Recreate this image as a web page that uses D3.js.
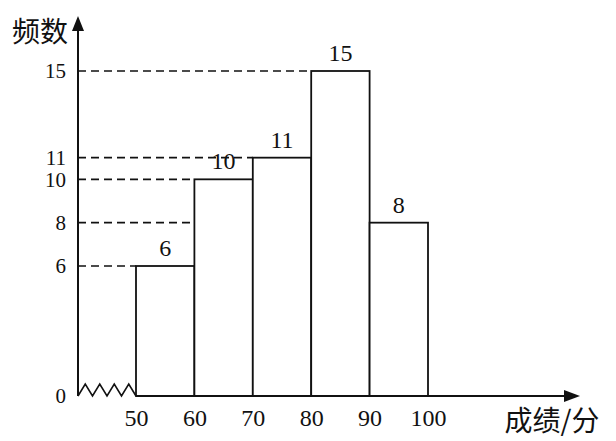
<!DOCTYPE html>
<html>
<head>
<meta charset="utf-8">
<script src="https://cdn.jsdelivr.net/npm/d3@7"></script>
<style>
  body { margin: 0; background: #fff; }
</style>
</head>
<body>
<svg width="616" height="441"></svg>
<script>
// данные гистограммы
const binStarts = [50, 60, 70, 80, 90];
const binWidth = 10;
const counts = [6, 10, 11, 15, 8];
const yTicks = [0, 6, 8, 10, 11, 15];
const xTicks = [50, 60, 70, 80, 90, 100];
const yTitle = "频数";
const xTitle = "成绩/分";

const numFont = "'Liberation Serif', 'DejaVu Serif', serif";
const cnFont = "'Noto Sans CJK SC', sans-serif";

const svg = d3.select("svg");
const originX = 78;
const originY = 396;

// шкалы
const x = d3.scaleLinear().domain([50, 100]).range([136, 428]);
const y = d3.scaleLinear().domain([0, 15]).range([originY, 71]);

// пунктирные линии от оси до левого края столбца
svg.selectAll(".guide")
  .data(binStarts)
  .enter()
  .append("line")
  .attr("x1", originX)
  .attr("x2", (d) => x(d))
  .attr("y1", (d, i) => y(counts[i]))
  .attr("y2", (d, i) => y(counts[i]))
  .attr("stroke", "#111")
  .attr("stroke-width", 1.6)
  .attr("stroke-dasharray", "8,5");

// столбцы
svg.selectAll(".bar")
  .data(binStarts)
  .enter()
  .append("rect")
  .attr("x", (d) => x(d))
  .attr("width", (d) => x(d + binWidth) - x(d))
  .attr("y", (d, i) => y(counts[i]))
  .attr("height", (d, i) => originY - y(counts[i]))
  .attr("fill", "#fff")
  .attr("stroke", "#111")
  .attr("stroke-width", 1.8);

// подписи над столбцами
svg.selectAll(".lbl")
  .data(binStarts)
  .enter()
  .append("text")
  .style("font-family", numFont)
  .style("font-size", "24px")
  .attr("fill", "#111")
  .attr("x", (d) => x(d + binWidth / 2))
  .attr("y", (d, i) => y(counts[i]) - 10)
  .attr("text-anchor", "middle")
  .text((d, i) => counts[i]);

// оси со стрелками
svg.append("line")
  .attr("x1", originX).attr("y1", originY)
  .attr("x2", originX).attr("y2", 26)
  .attr("stroke", "#111").attr("stroke-width", 2);
svg.append("path")
  .attr("d", `M${originX},16 L${originX - 6},31 L${originX + 6},31 Z`)
  .attr("fill", "#111");

svg.append("line")
  .attr("x1", x(50)).attr("y1", originY)
  .attr("x2", 568).attr("y2", originY)
  .attr("stroke", "#111").attr("stroke-width", 2);
svg.append("path")
  .attr("d", `M580,${originY} L564,${originY - 6} L564,${originY + 6} Z`)
  .attr("fill", "#111");

// зигзаг разрыва оси
const zig = [];
const zw = (x(50) - originX) / 8;
for (let k = 0; k <= 8; k++) {
  zig.push([originX + k * zw, k % 2 ? originY - 12 : originY]);
}
svg.append("path")
  .attr("d", d3.line()(zig))
  .attr("fill", "none")
  .attr("stroke", "#111")
  .attr("stroke-width", 1.6);

// подписи осей
const axisY = d3.axisLeft(y).tickValues(yTicks).tickSize(0).tickPadding(12);
svg.append("g")
  .attr("transform", `translate(${originX}, 0)`)
  .call(axisY)
  .call((g) => g.select(".domain").remove())
  .selectAll("text")
  .style("font-family", numFont)
  .style("font-size", "21px")
  .attr("fill", "#111");

const axisX = d3.axisBottom(x).tickValues(xTicks).tickSize(0).tickPadding(13);
svg.append("g")
  .attr("transform", `translate(0, ${originY})`)
  .call(axisX)
  .call((g) => g.select(".domain").remove())
  .selectAll("text")
  .style("font-family", numFont)
  .style("font-size", "24px")
  .attr("fill", "#111");

svg.append("text")
  .style("font-family", cnFont)
  .style("font-size", "28px")
  .attr("fill", "#111")
  .attr("x", 40).attr("y", 42)
  .attr("text-anchor", "middle")
  .text(yTitle);

svg.append("text")
  .style("font-family", cnFont)
  .style("font-size", "28px")
  .attr("fill", "#111")
  .attr("x", 552).attr("y", 431)
  .attr("text-anchor", "middle")
  .text(xTitle);
</script>
</body>
</html>
